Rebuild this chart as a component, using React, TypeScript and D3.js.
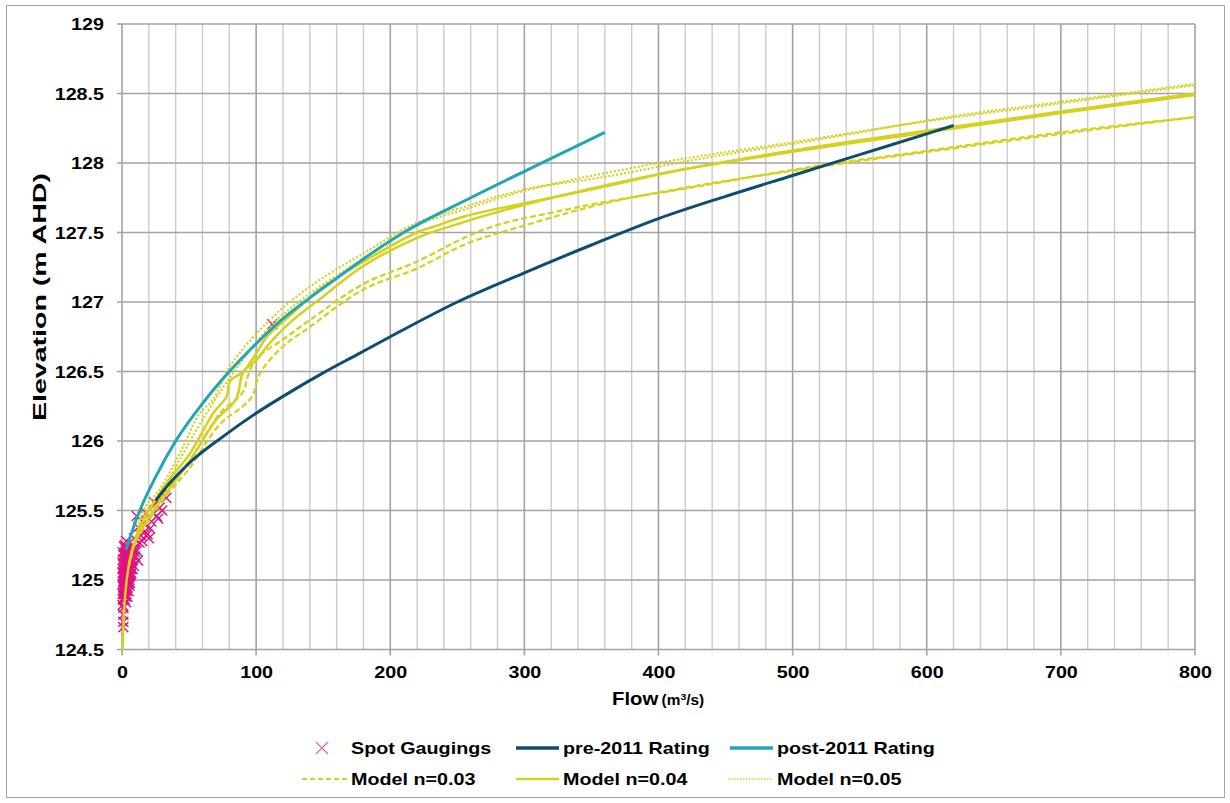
import React from "react";
import * as d3 from "d3";

// ---------- data ----------
const xTicks = [0, 100, 200, 300, 400, 500, 600, 700, 800];
const yTicks = [124.5, 125, 125.5, 126, 126.5, 127, 127.5, 128, 128.5, 129];

const gaugeQ = [112, 33, 28, 26, 22, 21, 18, 16, 14, 13, 12, 11, 10, 9, 8, 8, 7, 7, 6, 6, 5, 5, 5, 4, 4, 4, 4, 3, 3, 3, 3, 3, 2.5, 2.5, 2, 2, 2, 2, 2, 1.5, 1.5, 1.5, 1, 1, 1, 1, 1, 0.5, 0.5, 0.5, 0.5, 1, 1, 1, 0.5, 2, 3, 5, 6, 9, 15, 20, 24, 30, 17,
  0.5, 1, 1.5, 2, 2.5, 3, 3.5, 4, 4.5, 5, 5.5, 6, 0.5, 1, 1.5, 2, 2.5, 3, 3.5, 4, 4.5, 5, 1, 2, 3, 4, 5, 6, 7, 8, 10, 12, 1.5, 2.5, 3.5, 4.5, 6.5, 8.5, 11, 19, 25, 27,
  0.5, 1, 2, 3, 4, 5, 6, 7, 0.5, 1.5, 2.5, 3.5, 4.5, 5.5, 7.5, 9.5];
const gaugeE = [126.84, 125.59, 125.52, 125.46, 125.42, 125.37, 125.48, 125.41, 125.32, 125.27, 125.38, 125.46, 125.22, 125.3, 125.18, 125.25, 125.12, 125.05, 125.2, 124.98, 125.1, 125.02, 124.92, 125.15, 125.07, 124.95, 124.88, 125.22, 125.12, 125.0, 124.9, 124.84, 125.05, 124.96, 125.18, 125.08, 124.98, 124.93, 124.86, 125.1, 125.0, 124.9, 125.15, 125.03, 124.95, 124.87, 124.8, 125.2, 125.08, 124.97, 124.9, 124.75, 124.7, 124.66, 124.82, 125.25, 125.28, 125.23, 125.13, 125.1, 125.28, 125.3, 125.56, 125.5, 125.35,
  125.12, 125.11, 125.05, 125.02, 125.1, 125.06, 125.0, 125.02, 124.98, 125.06, 125.0, 125.08, 125.02, 124.99, 124.95, 125.13, 125.16, 124.95, 125.18, 125.1, 125.12, 125.16, 124.92, 124.9, 124.93, 124.98, 124.97, 125.03, 125.16, 125.08, 125.17, 125.14, 125.24, 125.2, 125.2, 125.18, 125.04, 125.22, 125.21, 125.33, 125.55, 125.44,
  125.05, 125.18, 125.14, 125.17, 125.2, 125.15, 125.04, 125.08, 124.86, 124.94, 124.88, 124.92, 125.1, 124.96, 125.14, 125.2];

const preQ = [25, 35, 50, 75, 100, 125, 150, 175, 200, 250, 300, 350, 400, 450, 500, 550, 600, 620];
const preE = [125.57, 125.69, 125.84, 126.03, 126.2, 126.35, 126.49, 126.62, 126.75, 127.0, 127.21, 127.41, 127.6, 127.76, 127.91, 128.06, 128.21, 128.27];

const postQ = [3, 12, 25, 40, 60, 80, 100, 120, 140, 160, 180, 210, 260, 300, 360];
const postE = [125.22, 125.47, 125.74, 126.0, 126.27, 126.5, 126.7, 126.88, 127.03, 127.17, 127.31, 127.5, 127.75, 127.94, 128.22];

// Model n=0.03 (dashed), two limbs of the loop
const n03aQ = [5, 10, 20, 35, 50, 73, 90, 94, 100, 120, 140, 180, 219.7, 257, 282, 319, 360, 416, 525, 580, 700, 800];
const n03aE = [125.1, 125.28, 125.45, 125.68, 125.85, 126.2, 126.35, 126.47, 126.59, 126.73, 126.87, 127.13, 127.29, 127.47, 127.56, 127.64, 127.72, 127.81, 127.99, 128.06, 128.22, 128.33];
const n03bQ = [5, 10, 20, 35, 50, 73, 90, 97, 103, 120, 140, 180, 219.7, 257, 300, 360, 431, 525, 600, 700, 800];
const n03bE = [125.1, 125.27, 125.43, 125.63, 125.8, 126.12, 126.25, 126.32, 126.49, 126.68, 126.82, 127.09, 127.24, 127.42, 127.55, 127.71, 127.84, 127.98, 128.08, 128.21, 128.33];

// Model n=0.04 (solid)
const n04aQ = [0.5, 2, 5, 10, 20, 35, 50, 68, 78, 80.5, 90.5, 100, 108, 125, 150, 180, 219.7, 232, 257, 300, 360, 416, 520, 620, 700, 800];
const n04aE = [124.5, 124.85, 125.1, 125.3, 125.5, 125.72, 125.9, 126.2, 126.32, 126.43, 126.5, 126.63, 126.75, 126.9, 127.11, 127.29, 127.5, 127.54, 127.62, 127.71, 127.83, 127.95, 128.12, 128.26, 128.37, 128.5];
const n04bQ = [5, 10, 20, 35, 50, 70, 85, 90.5, 100, 108, 125, 150, 180, 219.7, 240, 300, 400, 500, 600, 700, 800];
const n04bE = [125.1, 125.28, 125.45, 125.65, 125.85, 126.15, 126.3, 126.5, 126.58, 126.68, 126.85, 127.04, 127.26, 127.46, 127.53, 127.7, 127.92, 128.08, 128.22, 128.36, 128.49];

// Model n=0.05 (dotted)
const n05aQ = [5, 10, 16, 30, 45, 58, 68, 80.5, 110, 140, 180, 219.7, 257, 300, 360, 431, 520, 622, 700, 800];
const n05aE = [125.12, 125.3, 125.5, 125.68, 125.95, 126.2, 126.3, 126.54, 126.87, 127.11, 127.35, 127.57, 127.69, 127.81, 127.9, 128.03, 128.17, 128.34, 128.44, 128.57];
const n05bQ = [5, 10, 16, 30, 45, 58, 80, 110, 140, 180, 219.7, 260, 300, 400, 500, 600, 700, 800];
const n05bE = [125.1, 125.28, 125.46, 125.64, 125.9, 126.12, 126.45, 126.82, 127.06, 127.31, 127.55, 127.68, 127.8, 128.0, 128.15, 128.3, 128.43, 128.56];

// ---------- styles ----------
const FONT = "'Liberation Sans', Arial, sans-serif";
const PRE = "#0f4d70";
const POST = "#1fa7b6";
const YEL = "#d5d11d";
const PINK = "#e30f80";
const SX = 1.16;

export default function App() {
  const x = d3.scaleLinear().domain([0, 800]).range([122, 1195]);
  const y = d3.scaleLinear().domain([124.5, 129]).range([649.5, 24]);

  const zip = (qs: number[], es: number[]) => qs.map((q, i) => [q, es[i]] as [number, number]);
  const smooth = d3.line<[number, number]>().x(d => x(d[0])).y(d => y(d[1])).curve(d3.curveMonotoneX);
  const lin = d3.line<[number, number]>().x(d => x(d[0])).y(d => y(d[1])).curve(d3.curveCatmullRom.alpha(0.5));

  const minorX = d3.range(0, 801, 20);
  const models = [
    { a: [n03aQ, n03aE], b: [n03bQ, n03bE], dash: "6,3", w: 2.3 },
    { a: [n04aQ, n04aE], b: [n04bQ, n04bE], dash: undefined, w: 2.5 },
    { a: [n05aQ, n05aE], b: [n05bQ, n05bE], dash: "2,2", w: 2.2 },
  ];

  const cross = (cx: number, cy: number, r: number, key: any, color = PINK, sw = 1.4) => (
    <path key={key} d={`M${cx - r},${cy - r}L${cx + r},${cy + r}M${cx - r},${cy + r}L${cx + r},${cy - r}`} stroke={color} strokeWidth={sw} fill="none" />
  );
  const T = (tx: number, ty: number, s: string, anchor = "start", size = 17, key?: any) => (
    <text key={key} transform={`translate(${tx},${ty}) scale(${SX},1)`} textAnchor={anchor} fontSize={size} fontWeight="bold">{s}</text>
  );

  return (
    <svg width={1230} height={803} style={{ position: "absolute", left: 0, top: 0, background: "#fff" }} fontFamily={FONT}>
      <rect x={6.5} y={5.5} width={1218} height={792} fill="#fff" stroke="#a6a6a6" strokeWidth={1} />
      {/* grid */}
      {minorX.map(v => (
        <line key={"gx" + v} x1={x(v)} x2={x(v)} y1={y(129)} y2={y(124.5)} stroke={v % 100 === 0 ? "#a3a3a3" : "#cccccc"} strokeWidth={v % 100 === 0 ? 1.6 : 1.4} />
      ))}
      {yTicks.map(v => (
        <line key={"gy" + v} x1={x(0) - 5} x2={x(800)} y1={y(v)} y2={y(v)} stroke="#a3a3a3" strokeWidth={1.6} />
      ))}
      {xTicks.map(v => (
        <line key={"tx" + v} x1={x(v)} x2={x(v)} y1={y(124.5)} y2={y(124.5) + 6} stroke="#a3a3a3" strokeWidth={1.6} />
      ))}
      {/* tick labels */}
      {yTicks.map(v => T(104, y(v) + 6, String(v), "end", 17, "ly" + v))}
      {xTicks.map(v => T(x(v) + 0.5, 678, String(v), "middle", 17, "lx" + v))}
      {/* axis titles */}
      <text transform={`translate(612,705) scale(1.1,1)`} fontWeight="bold">
        <tspan fontSize={18.5}>Flow</tspan>
        <tspan fontSize={14} dx={3}>(m</tspan>
        <tspan fontSize={9.5} dy={-5.5}>3</tspan>
        <tspan fontSize={14} dy={5.5}>/s)</tspan>
      </text>
      <text transform={`translate(46,297) rotate(-90)`} textAnchor="middle" fontSize={17.5} fontWeight="bold" textLength={248} lengthAdjust="spacingAndGlyphs">Elevation (m AHD)</text>

      {/* gaugings */}
      <g>{gaugeQ.map((q, i) => cross(x(q), y(gaugeE[i]), 5, "g" + i))}</g>

      {/* models */}
      {models.map((m, i) => (
        <g key={"m" + i}>
          <path d={lin(zip(m.a[0], m.a[1])) || ""} fill="none" stroke={YEL} strokeWidth={m.w} strokeDasharray={m.dash} />
          <path d={lin(zip(m.b[0], m.b[1])) || ""} fill="none" stroke={YEL} strokeWidth={m.w} strokeDasharray={m.dash} />
        </g>
      ))}
      {/* ratings */}
      <path d={smooth(zip(preQ, preE)) || ""} fill="none" stroke={PRE} strokeWidth={3} />
      <path d={smooth(zip(postQ, postE)) || ""} fill="none" stroke={POST} strokeWidth={3} />

      {/* legend */}
      <g>
        {cross(322, 748, 6, "lg", "#e86aa8", 1.3)}
        {T(351, 754, "Spot Gaugings")}
        <line x1={516} x2={559} y1={748} y2={748} stroke={PRE} strokeWidth={3.5} />
        {T(563, 754, "pre-2011 Rating")}
        <line x1={730} x2={773} y1={748} y2={748} stroke={POST} strokeWidth={3.5} />
        {T(777, 754, "post-2011 Rating")}

        <line x1={302} x2={347} y1={779} y2={779} stroke={YEL} strokeWidth={2} strokeDasharray="5,3" />
        {T(351, 785, "Model n=0.03")}
        <line x1={516} x2={559} y1={779} y2={779} stroke={YEL} strokeWidth={2.4} />
        {T(563, 785, "Model n=0.04")}
        <line x1={728} x2={773} y1={779} y2={779} stroke={YEL} strokeWidth={1.6} strokeDasharray="1.5,1.5" />
        {T(777, 785, "Model n=0.05")}
      </g>
    </svg>
  );
}
